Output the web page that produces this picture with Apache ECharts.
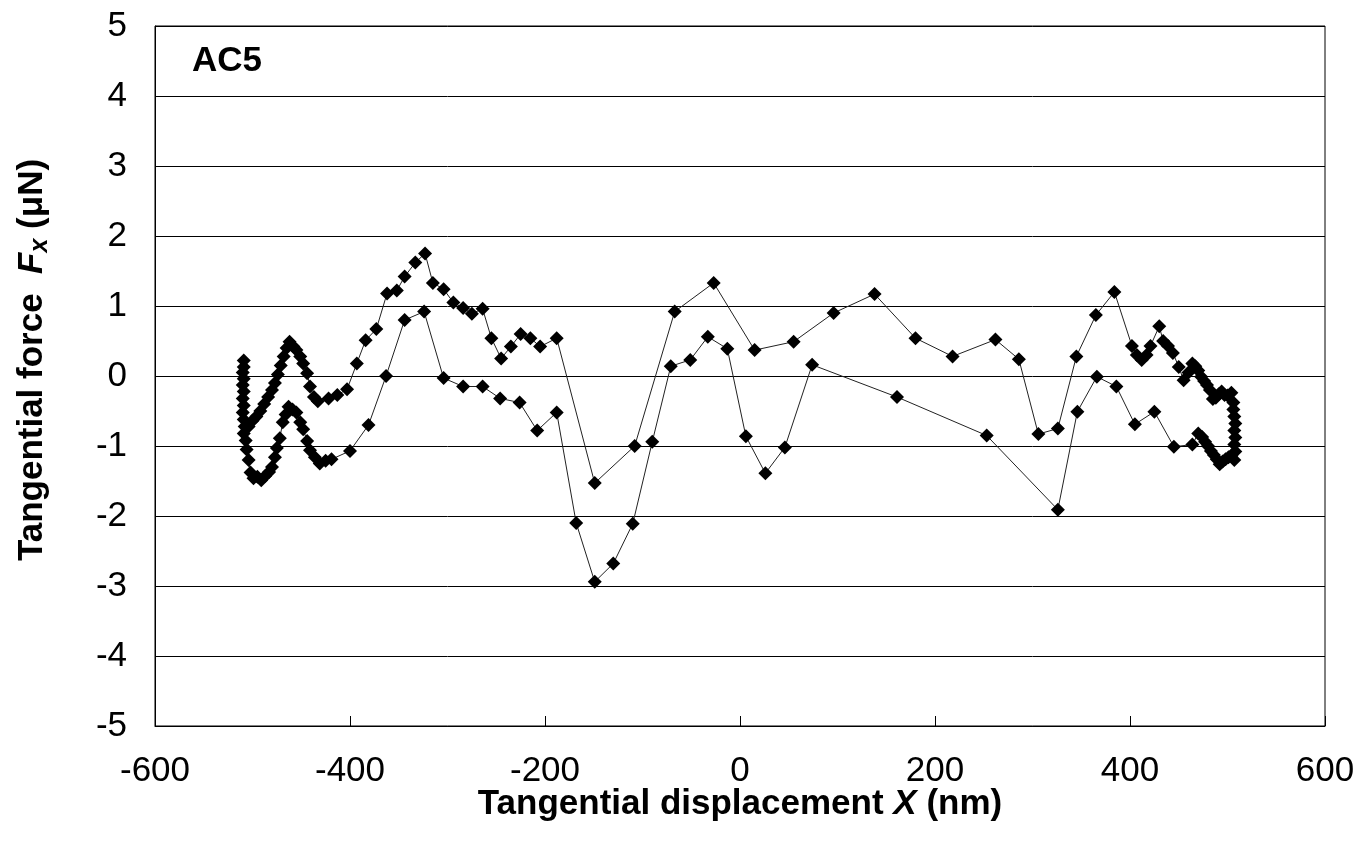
<!DOCTYPE html>
<html>
<head>
<meta charset="utf-8">
<script src="https://cdn.jsdelivr.net/npm/echarts@6/dist/echarts.min.js"></script>
<style>
html,body{margin:0;padding:0;background:#fff;}
#chart{width:1358px;height:852px;}
</style>
</head>
<body>
<div id="chart"></div>
<script>
// ---- data (nm, µN) ----
const xTicks = [-600, -400, -200, 0, 200, 400, 600];
const yTicks = [-5, -4, -3, -2, -1, 0, 1, 2, 3, 4, 5];

const leftColumnX = [-509,-509,-510,-509,-510,-509,-510,-509,-510,-509,-508,-509,-507,-506];
const leftColumnF = [0.22,0.13,0.05,-0.04,-0.13,-0.22,-0.32,-0.42,-0.52,-0.62,-0.72,-0.82,-0.92,-1.05];

const lowerX = [-504,-502,-499,-495,-491,-487,-483,-480,-477,-475,-472,-469,-466,-463,-459,-455,-451,-448,-444,-441,-436,-431,-425,-419,-400,-381,-363,-344,-324,-304,-284,-264,-246,-226,-208,-188,-168,-149,-130,-110,-90,-71,-51,-33,-13,6,26,46,74,161,253,326,346,366,386,405,425,445,464,470,474,477,480,483,486,489,492,495,498,501,504,507];
const lowerF = [-1.2,-1.38,-1.46,-1.44,-1.49,-1.43,-1.37,-1.3,-1.16,-1.03,-0.89,-0.66,-0.55,-0.44,-0.48,-0.52,-0.66,-0.76,-0.93,-1.06,-1.16,-1.25,-1.21,-1.19,-1.07,-0.70,0.0,0.80,0.92,-0.03,-0.15,-0.15,-0.32,-0.38,-0.78,-0.52,-2.10,-2.94,-2.68,-2.11,-0.94,0.14,0.23,0.56,0.39,-0.86,-1.39,-1.02,0.16,-0.30,-0.85,-1.91,-0.51,-0.01,-0.15,-0.69,-0.51,-1.01,-0.98,-0.82,-0.87,-0.94,-1.0,-1.07,-1.13,-1.19,-1.26,-1.22,-1.19,-1.16,-1.14,-1.2];

const rightColumnX = [508,507,508,507,508,507,506,506];
const rightColumnF = [-1.08,-0.98,-0.88,-0.78,-0.68,-0.58,-0.48,-0.38];

const upperX = [504,500,497,494,491,488,485,482,479,476,473,470,467,464,460,455,450,444,439,434,430,421,417,412,407,402,384,365,345,326,306,286,262,218,180,138,96,55,15,-27,-67,-108,-149,-188,-205,-215,-225,-235,-245,-255,-264,-275,-284,-294,-304,-315,-323,-333,-344,-352,-362,-373,-384,-393,-403,-413,-422,-433,-437,-441,-444,-448,-451,-455,-458,-462,-465,-468,-471,-474,-477,-480,-484,-488,-492,-496,-500,-504];
const upperF = [-0.24,-0.28,-0.27,-0.22,-0.26,-0.31,-0.33,-0.2,-0.13,-0.07,-0.01,0.08,0.14,0.18,0.05,-0.06,0.13,0.33,0.43,0.5,0.71,0.43,0.3,0.23,0.3,0.43,1.2,0.87,0.28,-0.75,-0.83,0.24,0.52,0.28,0.54,1.17,0.9,0.49,0.37,1.33,0.92,-1.0,-1.53,0.54,0.42,0.54,0.6,0.42,0.25,0.54,0.96,0.89,0.97,1.05,1.24,1.33,1.75,1.62,1.42,1.22,1.18,0.67,0.51,0.18,-0.19,-0.27,-0.32,-0.36,-0.3,-0.15,0.04,0.18,0.28,0.37,0.42,0.49,0.4,0.28,0.15,0.02,-0.1,-0.2,-0.3,-0.4,-0.5,-0.58,-0.64,-0.72];

const sampleLabel = 'AC5';

// ---- build ----
function zip(xs, ys){ return xs.map((x,i)=>[x, ys[i]]); }
const loopData = [].concat(
  zip(leftColumnX, leftColumnF),
  zip(lowerX, lowerF),
  zip(rightColumnX, rightColumnF),
  zip(upperX, upperF)
);

const FONT = '"Liberation Sans", Arial, sans-serif';
const chart = echarts.init(document.getElementById('chart'), null, {renderer:'canvas'});
chart.setOption({
  animation: false,
  backgroundColor: '#fff',
  grid: {left:155, right:33, top:26, bottom:126, show:true, borderColor:'#000', borderWidth:1, backgroundColor:'transparent'},
  xAxis: {
    type:'value', min:xTicks[0], max:xTicks[xTicks.length-1], interval:200,
    axisLine:{show:true, onZero:false, lineStyle:{color:'#000', width:1}},
    axisTick:{show:true, inside:true, length:10, lineStyle:{color:'#000'}},
    axisLabel:{color:'#000', fontSize:35, fontFamily:FONT, margin:28},
    splitLine:{show:false}
  },
  yAxis: {
    type:'value', min:yTicks[0], max:yTicks[yTicks.length-1], interval:1,
    axisLine:{show:true, onZero:false, lineStyle:{color:'#000', width:1}},
    axisTick:{show:false},
    axisLabel:{color:'#000', fontSize:35, fontFamily:FONT, margin:28},
    splitLine:{show:true, lineStyle:{color:'#000', width:1}}
  },
  graphic: [
    {type:'text', left:192, top:44, style:{text:sampleLabel, fill:'#000', font:'bold 35px '+FONT}},
    {type:'text', x:740, y:804, style:{
      text:'{b|Tangential displacement }{i|X}{b| (nm)}',
      align:'center', verticalAlign:'middle',
      rich:{
        b:{fontSize:35, fontWeight:'bold', fontFamily:FONT, fill:'#000'},
        i:{fontSize:35, fontWeight:'bold', fontStyle:'italic', fontFamily:FONT, fill:'#000'}
      }}},
    {type:'text', x:32, y:360, rotation:Math.PI/2, style:{
      text:'{b|Tangential force  }{i|F}{s|x}{b| (μN)}',
      align:'center', verticalAlign:'middle',
      rich:{
        b:{fontSize:35, fontWeight:'bold', fontFamily:FONT, fill:'#000'},
        i:{fontSize:35, fontWeight:'bold', fontStyle:'italic', fontFamily:FONT, fill:'#000'},
        s:{fontSize:25, fontWeight:'bold', fontStyle:'italic', fontFamily:FONT, fill:'#000', padding:[16,0,0,0]}
      }}}
  ],
  series: [{
    type:'line', data:loopData, smooth:false,
    symbol:'diamond', symbolSize:14, showAllSymbol:true,
    itemStyle:{color:'#000'},
    lineStyle:{color:'#222', width:1},
    z:3
  }]
});
</script>
</body>
</html>
